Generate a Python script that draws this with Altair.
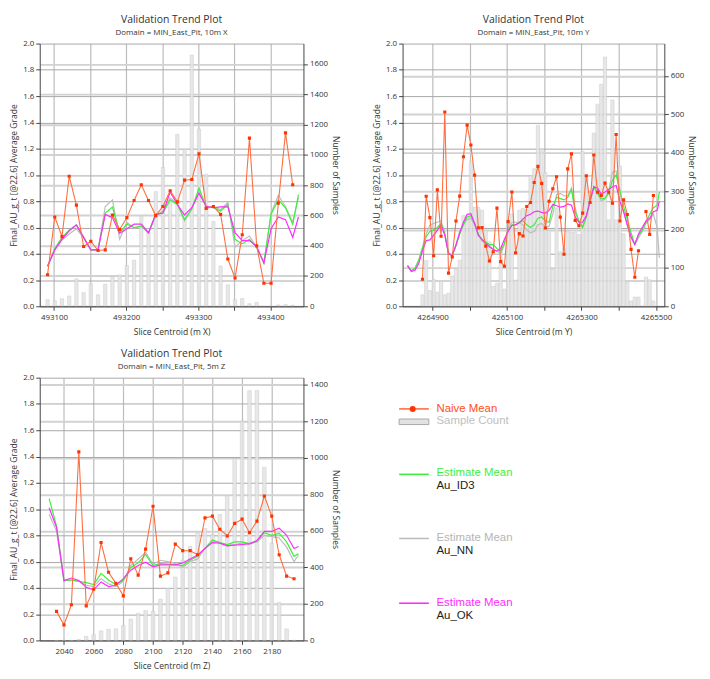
import altair as alt
import pandas as pd

FONT = "Open Sans"
LEG_FONT = "Liberation Sans"
TXT = "#333333"
RED_LINE = "#ff6e40"
RED_PT = "#ff3300"
RED_TXT = "#ff4d1a"
GREEN = "#3df03d"
GRAY = "#bdbdbd"
MAGENTA = "#ff2bff"
BAR_FILL = "#e4e4e4"
BAR_STROKE = "#c9c9c9"

# ---------------- Panel 1 : 10m X ----------------
p1_x = list(range(493091, 493432, 10))
p1_naive = [0.24, 0.68, 0.53, 0.99, 0.77, 0.455, 0.495, 0.425, 0.43, 0.695,
            0.585, 0.675, 0.805, 0.925, 0.805, 0.69, 0.76, 0.88, 0.795, 0.96,
            0.965, 1.16, 0.745, 0.76, 0.70, 0.36, 0.215, 0.545, 1.28, 0.46,
            0.175, 0.175, 0.785, 1.32, 0.925]
p1_count = [44, 37, 50, 68, 181, 90, 148, 76, 146, 195,
            207, 269, 304, 594, 491, 757, 917, 700, 1135, 1037,
            1659, 1170, 873, 560, 266, 142, 44, 52, 17, 26,
            0, 0, 9, 11, 7]
p1_xe = p1_x + [493439]
p1_id3 = [0.305, 0.44, 0.525, 0.58, 0.62, 0.525, 0.43, 0.43, 0.71, 0.755,
          0.56, 0.625, 0.60, 0.61, 0.56, 0.70, 0.71, 0.81, 0.775, 0.66,
          0.74, 0.90, 0.757, 0.75, 0.725, 0.775, 0.51, 0.475, 0.51, 0.45,
          0.33, 0.70, 0.81, 0.75, 0.625, 0.85]
p1_nn = [0.305, 0.43, 0.505, 0.55, 0.59, 0.52, 0.43, 0.43, 0.76, 0.81,
         0.51, 0.64, 0.595, 0.61, 0.555, 0.69, 0.725, 0.825, 0.78, 0.65,
         0.74, 0.875, 0.76, 0.757, 0.737, 0.79, 0.45, 0.50, 0.535, 0.45,
         0.33, 0.71, 0.845, 0.76, 0.64, 0.825]
p1_ok = [0.305, 0.43, 0.51, 0.575, 0.62, 0.525, 0.43, 0.43, 0.70, 0.675,
         0.555, 0.59, 0.625, 0.625, 0.56, 0.70, 0.71, 0.87, 0.775, 0.695,
         0.75, 0.86, 0.76, 0.75, 0.757, 0.757, 0.56, 0.50, 0.50, 0.455,
         0.33, 0.59, 0.68, 0.66, 0.525, 0.68]

# ---------------- Panel 2 : 10m Y ----------------
p2_x = list(range(4264873, 4265494, 10))
p2_naive = [0.206, 0.838, 0.675, 0.385, 0.886, 0.533, 1.479, 0.252, 0.376, 0.649,
            0.839, 1.138, 1.379, 1.228, 0.999, 0.597, 0.599, 0.458, 0.345, 0.415,
            0.747, 0.34, 0.305, 0.645, 0.87, 0.408, 0.553, 0.535, 0.76, 0.79,
            0.942, 1.065, 0.936, 0.596, 0.80, 0.895, 0.986, 0.679, 0.396, 1.046,
            1.16, 0.654, 0.613, 0.709, 0.994, 0.79, 1.152, 0.868, 0.843, 0.938,
            0.868, 0.785, 1.308, 0.649, 0.81, 0.699, 0.433, 0.221, 0.423, None,
            0.722, 0.548, 0.843]
p2_count = [30, 119, 41, 70, 37, 66, 30, 34, 79, 96,
            120, 236, 236, 378, 258, 258, 250, 198, 168, 52,
            60, 150, 45, 225, 240, 68, 250, 255, 252, 340,
            358, 471, 410, 348, 198, 96, 256, 142, 150, 195,
            192, 193, 187, 403, 341, 280, 451, 526, 578, 649,
            225, 537, 225, 365, 189, 62, 14, 24, 24, 0,
            76, 69, 14]
p2_xe = list(range(4264833, 4265504, 10)) + [4265509]
p2_id3 = [0.31, 0.27, 0.29, 0.35, 0.44, 0.53, 0.57, 0.58, 0.60, 0.63,
          0.55, 0.40, 0.39, 0.46, 0.55, 0.62, 0.68, 0.69, 0.63, 0.55,
          0.50, 0.49, 0.47, 0.47, 0.44, 0.42, 0.48, 0.58, 0.62, 0.62,
          0.64, 0.65, 0.62, 0.60, 0.62, 0.67, 0.68, 0.65, 0.64, 0.76,
          0.83, 0.82, 0.81, 0.83, 0.89, 0.72, 0.65, 0.60, 0.68, 0.80,
          0.91, 0.86, 0.82, 0.82, 0.86, 0.96, 1.00, 0.88, 0.76, 0.66,
          0.56, 0.47, 0.54, 0.58, 0.64, 0.70, 0.75, 0.77, 0.87]
p2_nn = [0.31, 0.27, 0.29, 0.35, 0.45, 0.55, 0.62, 0.63, 0.64, 0.65,
         0.56, 0.41, 0.39, 0.47, 0.57, 0.62, 0.66, 0.67, 0.62, 0.55,
         0.50, 0.47, 0.45, 0.44, 0.42, 0.40, 0.47, 0.60, 0.64, 0.64,
         0.64, 0.62, 0.58, 0.56, 0.57, 0.62, 0.63, 0.60, 0.61, 0.70,
         0.85, 0.86, 0.84, 0.84, 0.90, 0.75, 0.64, 0.61, 0.68, 0.82,
         0.91, 0.86, 0.80, 0.82, 0.88, 1.02, 1.03, 0.88, 0.72, 0.61,
         0.52, 0.47, 0.52, 0.57, 0.63, 0.66, 0.70, 0.60, 0.37]
p2_ok = [0.31, 0.265, 0.275, 0.325, 0.42, 0.50, 0.505, 0.54, 0.58, 0.62,
         0.54, 0.40, 0.385, 0.465, 0.56, 0.64, 0.70, 0.705, 0.63, 0.54,
         0.51, 0.48, 0.455, 0.43, 0.42, 0.44, 0.51, 0.57, 0.615, 0.62,
         0.635, 0.665, 0.69, 0.70, 0.72, 0.725, 0.715, 0.71, 0.73, 0.775,
         0.765, 0.755, 0.76, 0.78, 0.77, 0.68, 0.64, 0.64, 0.69, 0.80,
         0.91, 0.90, 0.855, 0.87, 0.89, 0.91, 0.92, 0.80, 0.72, 0.62,
         0.53, 0.47, 0.55, 0.60, 0.65, 0.67, 0.72, 0.73, 0.80]

# ---------------- Panel 3 : 5m Z ----------------
p3_x = list(range(2035, 2196, 5))
p3_naive = [0.221, 0.118, 0.271, 1.435, 0.263, 0.389, 0.745, 0.519, 0.434, 0.339,
            0.622, 0.497, 0.695, 1.021, 0.489, 0.514, 0.733, 0.683, 0.683, 0.652,
            0.933, 0.946, 0.846, 0.795, 0.891, 0.923, 0.82, 0.908, 1.099, 0.946,
            0.652, 0.489, 0.469]
p3_count = [0, 0, 0, 5, 22, 31, 52, 60, 63, 81,
            117, 148, 163, 159, 226, 285, 347, 440, 515, 591,
            614, 580, 690, 793, 997, 1201, 1369, 1369, 948, 533,
            208, 63, 0]
p3_xe = list(range(2030, 2196, 5)) + [2198]
p3_id3 = [1.08, 0.87, 0.455, 0.46, 0.45, 0.44, 0.425, 0.51, 0.46, 0.425,
          0.46, 0.555, 0.59, 0.655, 0.57, 0.585, 0.58, 0.575, 0.57, 0.61,
          0.64, 0.70, 0.765, 0.745, 0.73, 0.75, 0.75, 0.735, 0.755, 0.82,
          0.80, 0.815, 0.75, 0.64, 0.66]
p3_nn = [0.96, 0.83, 0.455, 0.46, 0.45, 0.42, 0.41, 0.47, 0.43, 0.41,
         0.45, 0.57, 0.62, 0.67, 0.58, 0.61, 0.60, 0.585, 0.555, 0.60,
         0.62, 0.70, 0.755, 0.745, 0.725, 0.73, 0.74, 0.74, 0.75, 0.80,
         0.79, 0.78, 0.71, 0.60, 0.65]
p3_ok = [1.01, 0.86, 0.455, 0.475, 0.455, 0.405, 0.385, 0.445, 0.41, 0.42,
         0.47, 0.535, 0.57, 0.595, 0.56, 0.575, 0.575, 0.575, 0.59, 0.62,
         0.65, 0.70, 0.745, 0.74, 0.72, 0.725, 0.73, 0.735, 0.76, 0.83,
         0.83, 0.855, 0.80, 0.70, 0.715]

LEFT_TICKS = [round(i * 0.2, 1) for i in range(11)]
H = 265


def panel(px, naive, counts, pxe, id3, nn, ok, xdom, xticks, label_step,
          rmax, rticks, subtitle, xtitle, bar_size, width):
    seg, s = [], 0
    for v in naive:
        if v is None:
            s += 1
        seg.append(s)
    d_naive = pd.DataFrame({"x": px, "v": naive, "seg": seg}).dropna()
    d_bar = pd.DataFrame({"x": px, "n": counts})
    d_est = pd.DataFrame({"x": pxe, "id3": id3, "nn": nn, "ok": ok})

    base = xticks[0]
    xaxis = alt.Axis(values=xticks,
                     labelExpr=f"(datum.value - {base}) % {label_step} == 0 ? format(datum.value, 'd') : ''",
                     grid=True, gridColor="#bcbcbc", gridWidth=1.2,
                     title=xtitle, labelFlush=False, labelPadding=3, titlePadding=6)
    xenc = alt.X("x:Q", scale=alt.Scale(domain=xdom, nice=False, zero=False), axis=xaxis)

    lscale = alt.Scale(domain=[0, 2], nice=False)
    laxis = alt.Axis(values=LEFT_TICKS, format=".1f", orient="left",
                     title="Final_AU_g_t [@22.6] Average Grade",
                     grid=True, gridColor="#a8a8a8", gridWidth=1)

    def yl(field):
        return alt.Y(f"{field}:Q", scale=lscale, axis=laxis)

    bars = alt.Chart(d_bar).mark_bar(size=bar_size, fill=BAR_FILL, stroke=BAR_STROKE,
                                     strokeWidth=0.6, opacity=0.85, clip=True).encode(
        x=xenc,
        y=alt.Y("n:Q", scale=alt.Scale(domain=[0, rmax], nice=False),
                axis=alt.Axis(orient="right", values=rticks, format="d",
                              title="Number of Samples", grid=True, titlePadding=3,
                              gridColor="#d2d2d2", gridWidth=2)))

    def est(field, color):
        return alt.Chart(d_est).mark_line(color=color, strokeWidth=1.2, clip=True).encode(
            x=xenc, y=yl(field))

    red_l = alt.Chart(d_naive).mark_line(color=RED_LINE, strokeWidth=1.1, clip=True).encode(
        x=xenc, y=yl("v"), detail="seg:N")
    red_p = alt.Chart(d_naive).mark_square(size=10, color=RED_PT, opacity=1, clip=True).encode(
        x=xenc, y=yl("v"))

    lines = alt.layer(est("nn", GRAY), est("id3", GREEN), est("ok", MAGENTA), red_l, red_p)
    return alt.layer(bars, lines).resolve_scale(y="independent").properties(
        width=width, height=H,
        title=alt.TitleParams("Validation Trend Plot", subtitle=subtitle, frame="group",
                              anchor="middle", fontSize=10.5, fontWeight="normal",
                              subtitleFontSize=8, subtitleColor=TXT, color=TXT,
                              font=FONT, subtitleFont=FONT, offset=3, subtitlePadding=3))


p1 = panel(p1_x, p1_naive, p1_count, p1_xe, p1_id3, p1_nn, p1_ok,
           [493087, 493439], list(range(493100, 493401, 50)), 100,
           1735, list(range(0, 1601, 200)), "Domain = MIN_East_Pit, 10m X",
           "Slice Centroid (m X)", 3.3, 266)
p2 = panel(p2_x, p2_naive, p2_count, p2_xe, p2_id3, p2_nn, p2_ok,
           [4264833, 4265509], list(range(4264900, 4265501, 100)), 200,
           684, list(range(0, 601, 100)), "Domain = MIN_East_Pit, 10m Y",
           "Slice Centroid (m Y)", 3.2, 264)
p3 = panel(p3_x, p3_naive, p3_count, p3_xe, p3_id3, p3_nn, p3_ok,
           [2027, 2198], list(range(2040, 2181, 20)), 20,
           1440, list(range(0, 1401, 200)), "Domain = MIN_East_Pit, 5m Z",
           "Slice Centroid (m Z)", 3.6, 266)

# ---------------- Legend panel ----------------
leg_label = ["Naive Mean", "Sample Count", "Estimate Mean", "Au_ID3",
             "Estimate Mean", "Au_NN", "Estimate Mean", "Au_OK"]
leg_color = [RED_TXT, "#c0c0c0", GREEN, "#222222", "#b5b5b5", "#222222", MAGENTA, "#222222"]
leg_row = [31.5, 44.2, 96.5, 109.2, 162, 174.8, 227.5, 240.5]
line_color = [RED_LINE, GREEN, GRAY, MAGENTA]
line_row = [31.5, 97.5, 162.2, 227.5]

LW = 264
lx = alt.Scale(domain=[0, LW], nice=False)
ly = alt.Scale(domain=[0, H], nice=False, reverse=True)
d_txt = pd.DataFrame({"t": leg_label, "c": leg_color, "y": leg_row, "x": [65.2] * 8})
d_lin = pd.DataFrame({"c": line_color, "y": line_row, "x": [27.5] * 4, "x2": [57.5] * 4})
d_dot = pd.DataFrame({"x": [41.2], "y": [31.5]})
d_box = pd.DataFrame({"x": [27.5], "x2": [57.5], "y": [41.7], "y2": [47.3]})

leg_txt = alt.Chart(d_txt).mark_text(align="left", baseline="middle", fontSize=11.5, font=LEG_FONT).encode(
    x=alt.X("x:Q", scale=lx, axis=None), y=alt.Y("y:Q", scale=ly, axis=None),
    text="t:N", color=alt.Color("c:N", scale=None))
leg_lin = alt.Chart(d_lin).mark_rule(strokeWidth=1.6).encode(
    x=alt.X("x:Q", scale=lx, axis=None), x2="x2:Q",
    y=alt.Y("y:Q", scale=ly, axis=None), color=alt.Color("c:N", scale=None))
leg_dot = alt.Chart(d_dot).mark_circle(size=36, color=RED_PT, opacity=1).encode(
    x=alt.X("x:Q", scale=lx, axis=None), y=alt.Y("y:Q", scale=ly, axis=None))
leg_box = alt.Chart(d_box).mark_rect(fill="#e2e2e2", stroke="#a8a8a8", strokeWidth=1).encode(
    x=alt.X("x:Q", scale=lx, axis=None), x2="x2:Q",
    y=alt.Y("y:Q", scale=ly, axis=None), y2="y2:Q")
legend = alt.layer(leg_lin, leg_dot, leg_box, leg_txt).properties(width=LW, height=H)

row1 = alt.hconcat(p1, p2, spacing=32)
row2 = alt.hconcat(p3, legend, spacing=32)
chart = alt.vconcat(row1, row2, spacing=13).properties(
    padding={"left": 1, "top": 4, "right": 6, "bottom": 0}
).configure_view(stroke=None).configure_axis(
    labelFont=FONT, titleFont=FONT, labelFontSize=8, titleFontSize=8.6,
    titleFontWeight="normal", labelColor=TXT, titleColor=TXT,
    domainColor="#444444", tickColor="#444444", tickSize=4,
    labelPadding=2, titlePadding=4
)

chart.save("out.html", embed_options={"renderer": "svg", "actions": False})
